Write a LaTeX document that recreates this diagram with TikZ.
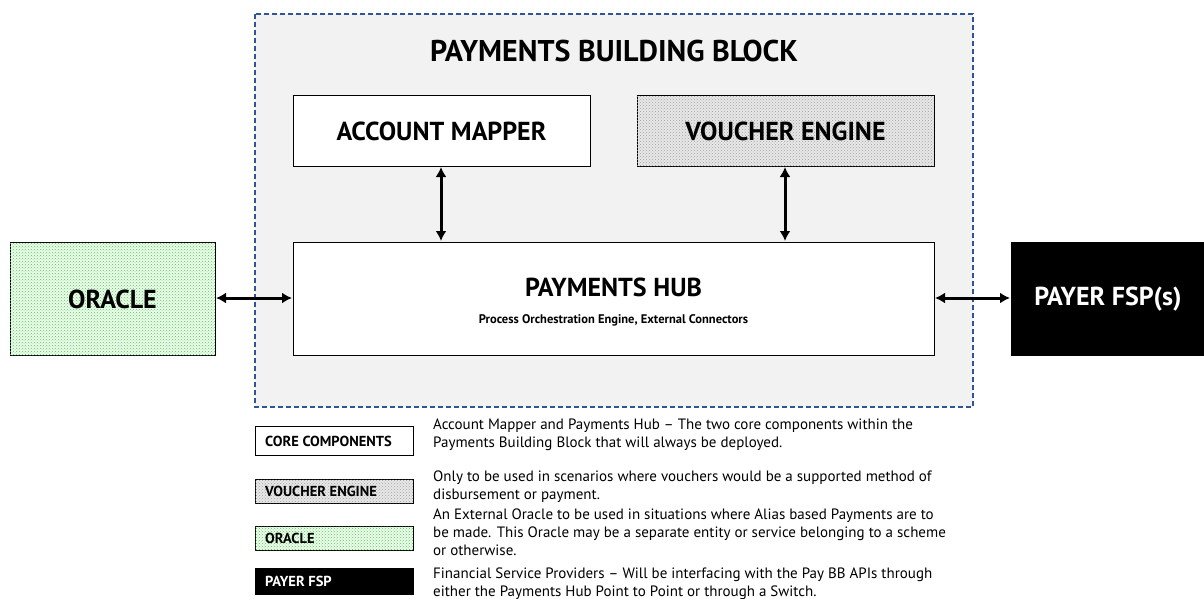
\documentclass[tikz,border=0pt]{standalone}
\usepackage{fontspec}
\setmainfont{PT Sans}
\usetikzlibrary{patterns,arrows.meta}
\definecolor{frameblue}{HTML}{2F5597}
\definecolor{panelgray}{HTML}{F2F2F2}
\tikzset{
  box/.style={draw=black, line width=1pt, fill=white, inner sep=0pt},
  stipple/.style={fill=gray!18, postaction={pattern=crosshatch dots, pattern color=gray!75}},
  greenstipple/.style={fill=green!8, postaction={pattern=crosshatch dots, pattern color=green!45!gray!85}},
  link/.style={draw=black, line width=3pt, {Latex[length=10pt,width=11pt]}-{Latex[length=10pt,width=11pt]}},
  legendtxt/.style={anchor=north west, align=left, font=\fontsize{15}{18}\selectfont, inner sep=0pt},
  legendlbl/.style={anchor=west, inner sep=0pt, font=\bfseries\fontsize{14.5}{16}\selectfont},
  bigtxt/.style={font=\bfseries\fontsize{26}{28}\selectfont},
}
\begin{document}
\begin{tikzpicture}[x=1pt,y=-1pt]
\useasboundingbox (0,0) rectangle (1204,599);
% building block panel
\fill[panelgray] (255,14) rectangle (973,407);
\draw[draw=frameblue, dash pattern=on 5pt off 3pt, line width=1.3pt] (255,14) rectangle (973,407);
\node[font=\bfseries\fontsize{30}{32}\selectfont] (title) at (614,51) {PAYMENTS BUILDING BLOCK};
% components
\draw[box] (293,96) rectangle (590,166);
\node[bigtxt] (mapper) at (441.5,131) {ACCOUNT MAPPER};
\draw[box, stipple] (637,96) rectangle (934,166);
\node[bigtxt] (voucher) at (785.5,131) {VOUCHER ENGINE};
\draw[box] (293,242) rectangle (934,355);
\node[bigtxt] (hub) at (613.5,287) {PAYMENTS HUB};
\node[font=\bfseries\fontsize{12.5}{14}\selectfont] (hubsub) at (613.5,320) {Process Orchestration Engine, External Connectors};
\draw[box, greenstipple] (10,242) rectangle (215,355);
\node[bigtxt] (oracle) at (112.5,299) {ORACLE};
\draw[box, fill=black] (1011,242) rectangle (1204,355);
\node[bigtxt, text=white] (payer) at (1108,299) {PAYER FSP(s)};
% connector anchors on box edges
\coordinate (mapperB) at (441,167);
\coordinate (hubTL) at (441,241);
\coordinate (voucherB) at (785,167);
\coordinate (hubTR) at (785,241);
\coordinate (oracleR) at (216,298);
\coordinate (hubL) at (292,298);
\coordinate (hubR) at (935,298);
\coordinate (payerL) at (1010,298);
\draw[link] (mapperB) -- (hubTL);
\draw[link] (voucherB) -- (hubTR);
\draw[link] (oracleR) -- (hubL);
\draw[link] (hubR) -- (payerL);
% legend
\draw[box] (255,426) rectangle (413,455);
\node[legendlbl] (lg1) at (265,441) {CORE COMPONENTS};
\draw[box, line width=0.6pt, stipple] (255,479) rectangle (413,503);
\node[legendlbl] (lg2) at (265,491) {VOUCHER ENGINE};
\draw[box, line width=0.6pt, greenstipple] (255,526) rectangle (413,550);
\node[legendlbl] (lg3) at (265,538) {ORACLE};
\draw[box, fill=black] (255,568) rectangle (413,594);
\node[legendlbl, text=white] (lg4) at (265,581) {PAYER FSP};
\node[legendtxt] (d1) at (433,419) {Account Mapper and Payments Hub -- The two core components within the\\Payments Building Block that will always be deployed.};
\node[legendtxt] (d2) at (433,471) {Only to be used in scenarios where vouchers would be a supported method of\\disbursement or payment.};
\node[legendtxt] (d3) at (433,509) {An External Oracle to be used in situations where Alias based Payments are to\\be made. This Oracle may be a separate entity or service belonging to a scheme\\or otherwise.};
\node[legendtxt] (d4) at (433,568) {Financial Service Providers -- Will be interfacing with the Pay BB APIs through\\either the Payments Hub Point to Point or through a Switch.};
\end{tikzpicture}
\end{document}
